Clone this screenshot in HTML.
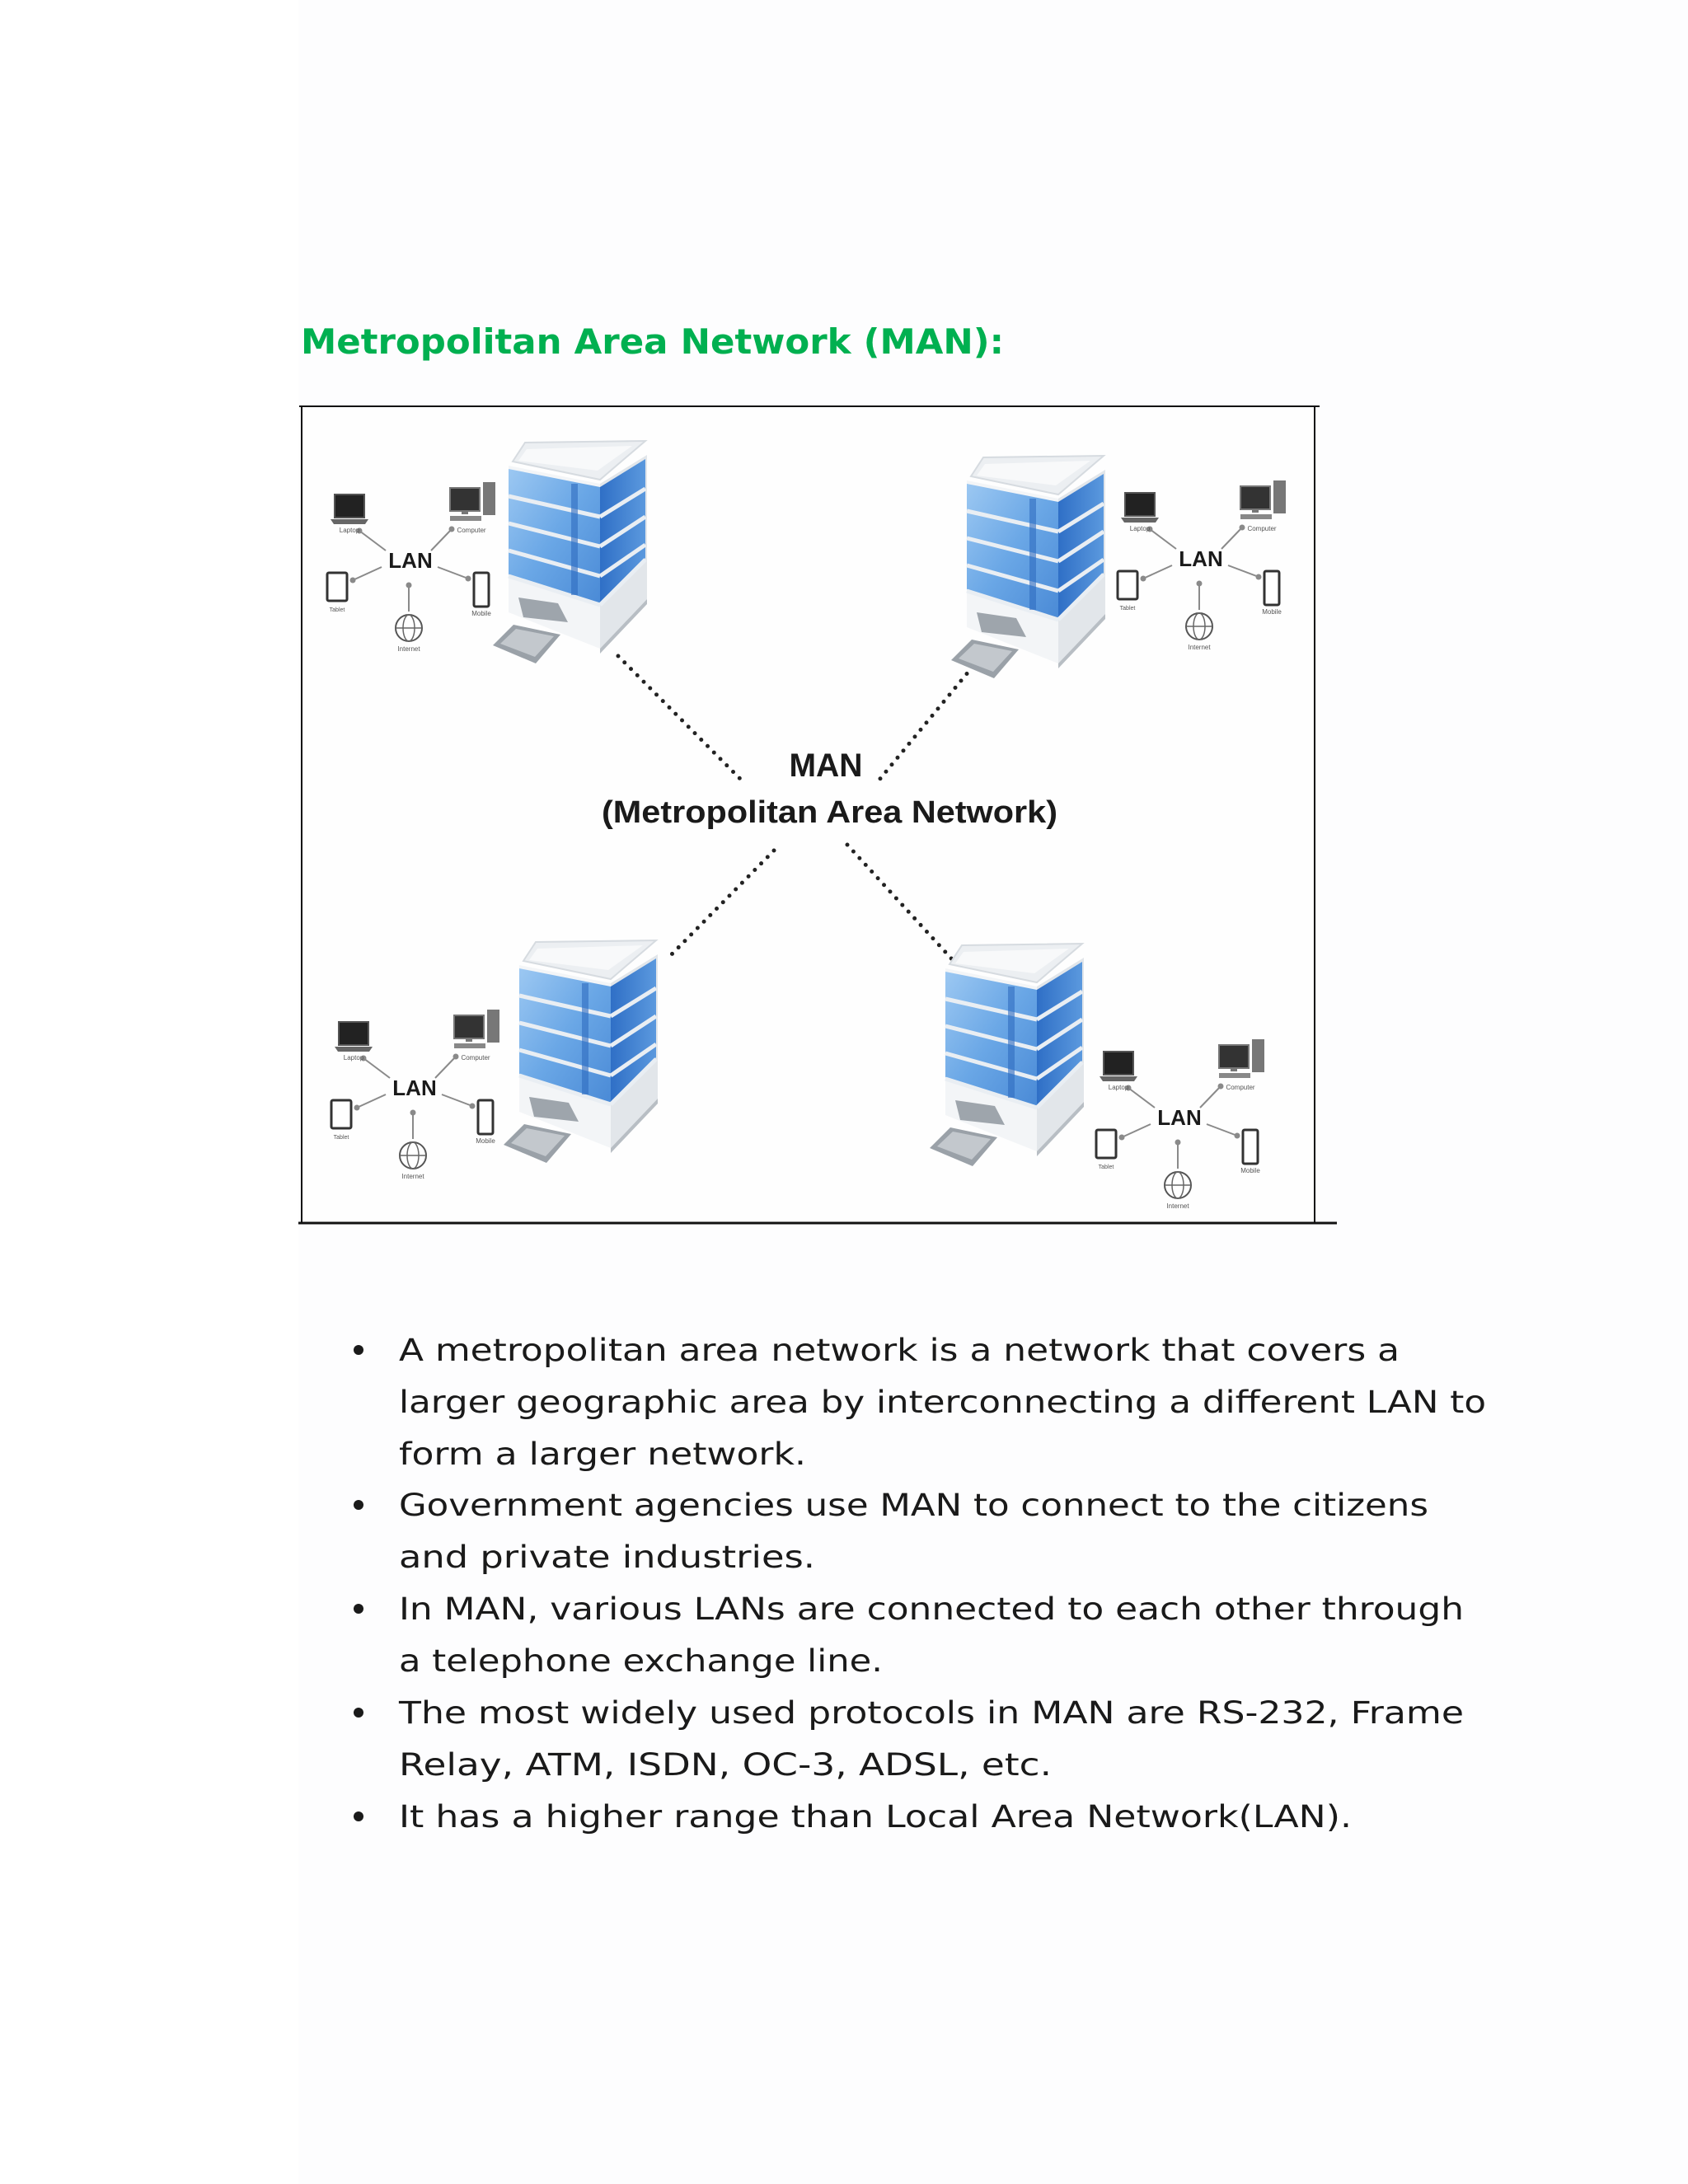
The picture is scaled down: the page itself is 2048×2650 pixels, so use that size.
<!DOCTYPE html>
<html><head><meta charset="utf-8"><style>html,body{margin:0;padding:0;background:#fdfdfe}svg{display:block}</style></head>
<body>
<svg width="2048" height="2650" viewBox="0 0 2048 2650" xmlns="http://www.w3.org/2000/svg">
<defs>
<linearGradient id="win" x1="0" y1="0" x2="1" y2="1"><stop offset="0" stop-color="#9cc8f2"/><stop offset="0.5" stop-color="#6aa7e6"/><stop offset="1" stop-color="#4a8ad6"/></linearGradient>
<linearGradient id="winR" x1="0" y1="0" x2="1" y2="0"><stop offset="0" stop-color="#2f6fc6"/><stop offset="1" stop-color="#5b99de"/></linearGradient>
<g id="bld">
  <polygon points="0,38 111,60 111,260 0,216" fill="#f3f5f7"/>
  <polygon points="111,60 168,25 168,200 111,260" fill="#e2e6ea"/>
  <polygon points="0,42 111,64 111,206 0,170" fill="url(#win)"/>
  <polygon points="111,64 166,30 166,150 111,206" fill="url(#winR)"/>
  <g stroke="#e9eef3" stroke-width="5">
    <line x1="0" y1="75" x2="111" y2="100"/><line x1="0" y1="108" x2="111" y2="136"/><line x1="0" y1="141" x2="111" y2="172"/><line x1="0" y1="172" x2="111" y2="207"/>
    <line x1="111" y1="100" x2="166" y2="66"/><line x1="111" y1="136" x2="166" y2="100"/><line x1="111" y1="172" x2="166" y2="134"/><line x1="111" y1="207" x2="166" y2="152"/>
  </g>
  <g stroke="#2f6cc0" stroke-width="8" opacity="0.6"><line x1="80" y1="60" x2="80" y2="195"/></g>
  <polygon points="5,33 20,10 166,8 111,55" fill="#eceff2" stroke="#d6dbe0" stroke-width="2"/>
  <polygon points="22,18 150,14 108,44 12,32" fill="#f8f9fa"/>
  <polygon points="12,198 60,205 72,228 18,222" fill="#9ea5ac"/>
  <polygon points="-19,256 6,231 63,243 33,278" fill="#9aa1a8"/>
  <polygon points="-10,254 9,236 55,245 32,270" fill="#c3c8cd"/>
  <polygon points="111,260 168,200 168,206 111,266" fill="#b8bec4"/>
</g>
<g id="lan" font-family="Liberation Sans, sans-serif">
  <text x="0" y="9" font-size="26" font-weight="bold" text-anchor="middle" fill="#1a1a1a">LAN</text>
  <g stroke="#8a8a8a" stroke-width="2" fill="#8a8a8a">
    <line x1="-30" y1="-12" x2="-62" y2="-36"/><circle cx="-62" cy="-36" r="2.5"/>
    <line x1="25" y1="-12" x2="50" y2="-38"/><circle cx="50" cy="-38" r="2.5"/>
    <line x1="-35" y1="8" x2="-70" y2="24"/><circle cx="-70" cy="24" r="2.5"/>
    <line x1="33" y1="8" x2="70" y2="22"/><circle cx="70" cy="22" r="2.5"/>
    <line x1="-2" y1="62" x2="-2" y2="30"/><circle cx="-2" cy="30" r="2.5"/>
  </g>
  <rect x="-92" y="-80" width="36" height="28" fill="#222" stroke="#555" stroke-width="2"/>
  <polygon points="-97,-50 -51,-50 -55,-44 -93,-44" fill="#666"/>
  <text x="-74" y="-34" font-size="8" text-anchor="middle" fill="#555">Laptop</text>
  <rect x="48" y="-88" width="36" height="28" fill="#333" stroke="#777" stroke-width="2"/>
  <rect x="62" y="-60" width="8" height="4" fill="#777"/>
  <rect x="48" y="-54" width="38" height="6" fill="#888"/>
  <rect x="88" y="-95" width="15" height="40" fill="#777"/>
  <text x="74" y="-34" font-size="8" text-anchor="middle" fill="#555">Computer</text>
  <rect x="-101" y="15" width="24" height="34" rx="2" fill="#fff" stroke="#333" stroke-width="3"/>
  <text x="-89" y="62" font-size="7" text-anchor="middle" fill="#555">Tablet</text>
  <rect x="77" y="15" width="18" height="41" rx="2" fill="#fff" stroke="#333" stroke-width="3"/>
  <text x="86" y="67" font-size="8" text-anchor="middle" fill="#555">Mobile</text>
  <circle cx="-2" cy="82" r="16" fill="#fff" stroke="#555" stroke-width="2"/>
  <ellipse cx="-2" cy="82" rx="7" ry="16" fill="none" stroke="#666" stroke-width="1.5"/>
  <line x1="-18" y1="82" x2="14" y2="82" stroke="#666" stroke-width="1.5"/>
  <text x="-2" y="110" font-size="8" text-anchor="middle" fill="#555">Internet</text>
</g>
</defs>

<rect x="0" y="0" width="2048" height="2650" fill="#fdfdfe"/>
<rect x="0" y="0" width="362" height="2650" fill="#ffffff"/>

<text x="365" y="429" font-family="DejaVu Sans, Verdana, sans-serif" font-weight="bold" font-size="42" fill="#00b050" textLength="853" lengthAdjust="spacingAndGlyphs">Metropolitan Area Network (MAN):</text>

<rect x="366" y="493" width="1229" height="990" fill="#fefefe"/>
<line x1="363" y1="493" x2="1601" y2="493" stroke="#111" stroke-width="2"/>
<line x1="366" y1="493" x2="366" y2="1483" stroke="#111" stroke-width="2"/>
<line x1="1595" y1="493" x2="1595" y2="1483" stroke="#111" stroke-width="2"/>
<line x1="362" y1="1484" x2="1622" y2="1484" stroke="#111" stroke-width="3"/>

<g stroke="#222" stroke-width="5" stroke-linecap="round" stroke-dasharray="0 11">
  <line x1="750" y1="796" x2="898" y2="945"/>
  <line x1="1180" y1="809" x2="1062" y2="952"/>
  <line x1="939" y1="1032" x2="808" y2="1165"/>
  <line x1="1028" y1="1025" x2="1156" y2="1165"/>
</g>

<use href="#bld" x="617" y="527"/>
<use href="#bld" x="1173" y="545"/>
<use href="#bld" x="630" y="1133"/>
<use href="#bld" x="1147" y="1137"/>

<use href="#lan" x="498" y="680"/>
<use href="#lan" x="1457" y="678"/>
<use href="#lan" x="503" y="1320"/>
<use href="#lan" x="1431" y="1356"/>

<g font-family="Liberation Sans, sans-serif" font-weight="bold" fill="#1a1a1a">
  <text x="1002" y="942" font-size="40" text-anchor="middle" textLength="89" lengthAdjust="spacingAndGlyphs">MAN</text>
  <text x="730" y="998" font-size="38" textLength="553" lengthAdjust="spacingAndGlyphs">(Metropolitan Area Network)</text>
</g>

<g font-family="DejaVu Sans, Verdana, sans-serif" font-size="37" fill="#1a1a1a">
  <circle cx="435" cy="1638" r="6"/>
  <circle cx="435" cy="1826" r="6"/>
  <circle cx="435" cy="1952" r="6"/>
  <circle cx="435" cy="2078" r="6"/>
  <circle cx="435" cy="2204" r="6"/>
  <text x="484" y="1651" textLength="1214" lengthAdjust="spacingAndGlyphs">A metropolitan area network is a network that covers a</text>
  <text x="484" y="1714" textLength="1319" lengthAdjust="spacingAndGlyphs">larger geographic area by interconnecting a different LAN to</text>
  <text x="484" y="1777" textLength="494" lengthAdjust="spacingAndGlyphs">form a larger network.</text>
  <text x="484" y="1839" textLength="1249" lengthAdjust="spacingAndGlyphs">Government agencies use MAN to connect to the citizens</text>
  <text x="484" y="1902" textLength="505" lengthAdjust="spacingAndGlyphs">and private industries.</text>
  <text x="484" y="1965" textLength="1292" lengthAdjust="spacingAndGlyphs">In MAN, various LANs are connected to each other through</text>
  <text x="484" y="2028" textLength="587" lengthAdjust="spacingAndGlyphs">a telephone exchange line.</text>
  <text x="484" y="2091" textLength="1292" lengthAdjust="spacingAndGlyphs">The most widely used protocols in MAN are RS-232, Frame</text>
  <text x="484" y="2154" textLength="792" lengthAdjust="spacingAndGlyphs">Relay, ATM, ISDN, OC-3, ADSL, etc.</text>
  <text x="484" y="2217" textLength="1156" lengthAdjust="spacingAndGlyphs">It has a higher range than Local Area Network(LAN).</text>
</g>
</svg>
</body></html>
